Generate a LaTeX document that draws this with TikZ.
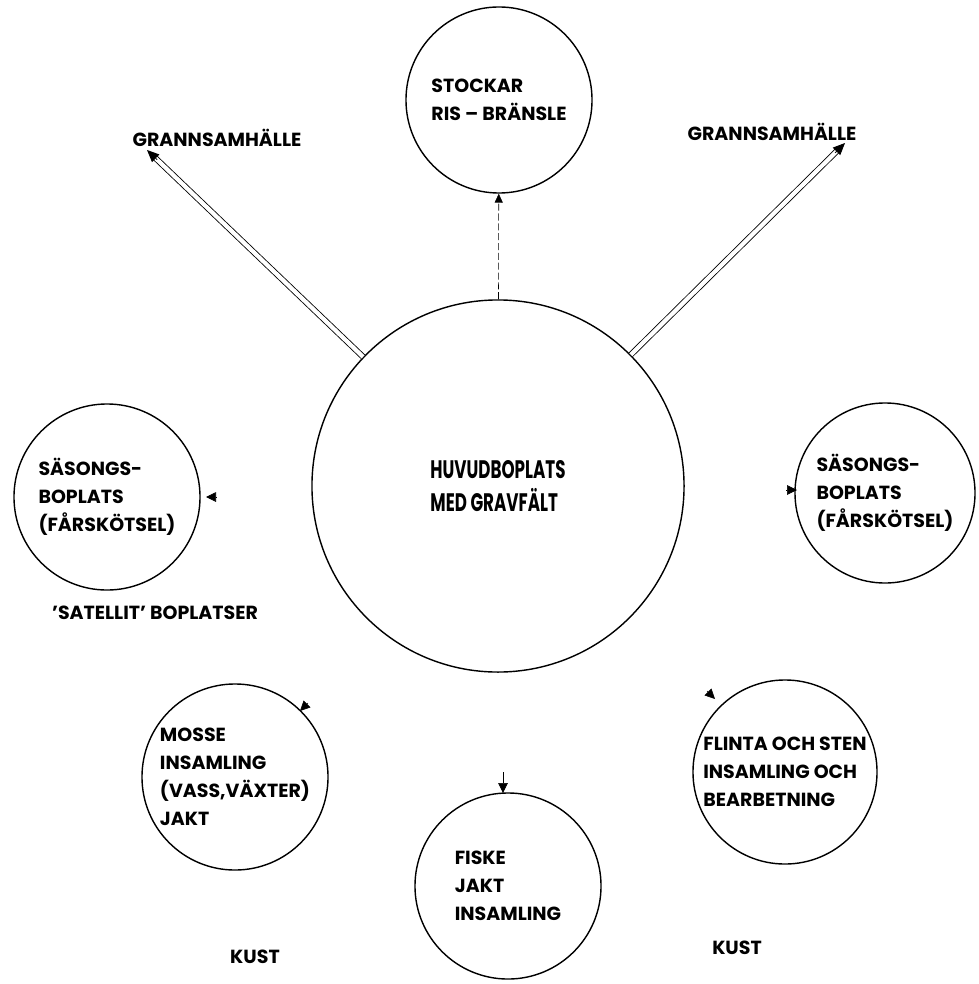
\documentclass[tikz,border=0pt]{standalone}
\usepackage{fontspec}
\setmainfont{Poppins}
\newfontfamily\narrowfont{Poppins}[FakeStretch=0.66]
\usepackage{tikz}
\usetikzlibrary{arrows.meta, positioning, calc}

\tikzset{
    site/.style={circle, draw, line width=1pt, minimum size=#1, inner sep=0pt, align=left,
        font=\bfseries\fontsize{13.5}{20}\selectfont},
    lbl/.style={font=\bfseries\fontsize{13.5}{20}\selectfont, inner sep=0pt},
    dblline/.style={double, double distance=3pt, semithick, shorten >=5pt},
    bigtip/.style={-{Triangle[length=0.3cm, width=0.26cm]}, semithick},
    smalltip/.style={-{Triangle[length=0.25cm, width=0.24cm]}, thin},
}

\begin{document}
\begin{tikzpicture}[x=0.025cm, y=-0.025cm]
        \useasboundingbox (0,0) rectangle (978,984);

        % Main site and surrounding sites
        \node[site=9.3cm, font=\narrowfont\bfseries\fontsize{18}{24}\selectfont] (main) at (498,486) {HUVUDBOPLATS\\MED GRAVFÄLT};
        \node[site=4.65cm] (stock) at (499,100) {STOCKAR\\RIS -- BRÄNSLE};
        \node[site=4.65cm] (lseason) at (107,497) {SÄSONGS-\\BOPLATS\\(FÅRSKÖTSEL)};
        \node[site=4.5cm] (rseason) at (885,493) {SÄSONGS-\\BOPLATS\\(FÅRSKÖTSEL)};
        \node[site=4.65cm] (mosse) at (235,777) {MOSSE\\INSAMLING\\(VASS,VÄXTER)\\JAKT};
        \node[site=4.65cm] (fiske) at (508,886) {FISKE\\JAKT\\INSAMLING};
        \node[site=4.6cm] (flinta) at (785,772) {FLINTA OCH STEN\\INSAMLING OCH\\BEARBETNING};

        % Labels
        \node[lbl] (lnb) at (217,138) {GRANNSAMHÄLLE};
        \node[lbl] (rnb) at (772,132) {GRANNSAMHÄLLE};
        \node[lbl] (sat) at (155,613) {'SATELLIT' BOPLATSER};
        \node[lbl] (lkust) at (255,957) {KUST};
        \node[lbl] (rkust) at (737,948) {KUST};

        % Links to the neighbours
        \coordinate (lnb-tip) at (147,150);
        \coordinate (rnb-tip) at (845,143);
        \foreach \t in {lnb-tip, rnb-tip} {
            \draw[dblline] (main) -- (\t);
            \draw[bigtip] ($(\t)!0.35cm!(main)$) -- (\t);
        }
        \draw[-{Triangle[length=0.22cm, width=0.2cm]}, thin, dash pattern=on 5pt off 2pt] (main) -- (stock);

        % Arrowheads at the satellite sites
        \coordinate (ls-a) at (216,497);  \coordinate (ls-b) at (206,497);
        \coordinate (rs-a) at (786,490);  \coordinate (rs-b) at (797,490);
        \coordinate (mo-a) at (308,703);  \coordinate (mo-b) at (300,711);
        \coordinate (fl-a) at (707,691);  \coordinate (fl-b) at (715,699);
        \coordinate (fi-a) at (503,772);  \coordinate (fi-b) at (503,793);
        \foreach \a/\b in {ls-a/ls-b, rs-a/rs-b, mo-a/mo-b, fl-a/fl-b, fi-a/fi-b} {
            \draw[smalltip] (\a) -- (\b);
        }

    \end{tikzpicture}
\end{document}
